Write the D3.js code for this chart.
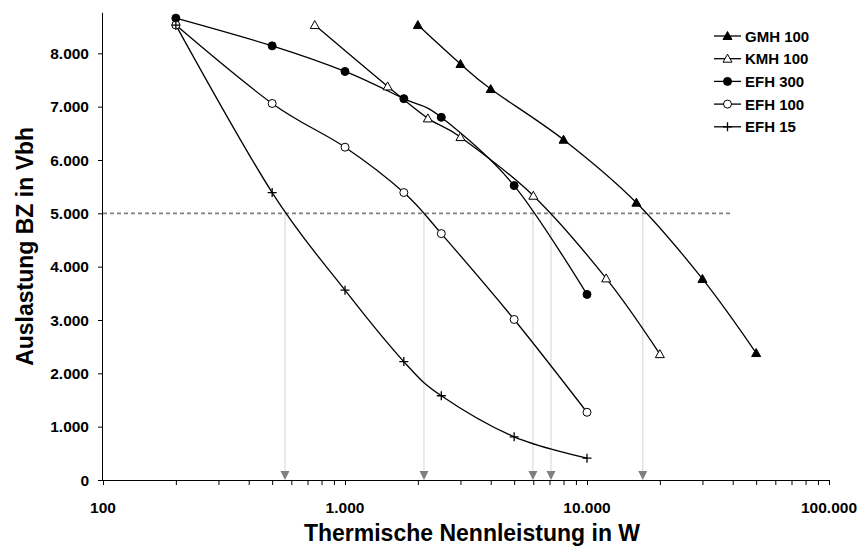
<!DOCTYPE html>
<html>
<head>
<meta charset="utf-8">
<script src="https://cdn.jsdelivr.net/npm/d3@7"></script>
<style>
  html, body { margin: 0; padding: 0; background: #fff; }
  svg { display: block; }
  text { font-family: "Liberation Sans", Arial, sans-serif; font-weight: bold; fill: #000; }
</style>
</head>
<body>
<svg id="chart" width="860" height="550"></svg>
<script>
// ---------- data ----------
const seriesNames = ["GMH 100", "KMH 100", "EFH 300", "EFH 100", "EFH 15"];
const gmh100X = [2000, 3000, 4000, 8000, 16000, 30000, 50000];
const gmh100Y = [8530, 7800, 7330, 6380, 5200, 3770, 2380];
const kmh100X = [750, 1500, 2200, 3000, 6000, 12000, 20000];
const kmh100Y = [8530, 7380, 6780, 6430, 5330, 3780, 2360];
const efhX = [200, 500, 1000, 1750, 2500, 5000, 10000];
const efh300Y = [8660, 8140, 7660, 7150, 6800, 5520, 3480];
const efh100Y = [8530, 7060, 6240, 5390, 4620, 3010, 1270];
const efh15Y = [8530, 5390, 3560, 2220, 1580, 810, 410];
const thresholdY = 5000;
const thresholdXEnd = 40000;
const arrowX = [565, 2120, 5980, 7100, 17000];
const xTickValues = [100, 1000, 10000, 100000];
const xTickLabels = ["100", "1.000", "10.000", "100.000"];
const yTickValues = [0, 1000, 2000, 3000, 4000, 5000, 6000, 7000, 8000];
const yTickLabels = ["0", "1.000", "2.000", "3.000", "4.000", "5.000", "6.000", "7.000", "8.000"];
const xTitle = "Thermische Nennleistung in W";
const yTitle = "Auslastung BZ in Vbh";

// ---------- layout ----------
const svg = d3.select("#chart");
const pLeft = 103, pRight = 829, pTop = 12.8, pBottom = 480;
const x = d3.scaleLog().domain([100, 100000]).range([pLeft, pRight]);
const y = d3.scaleLinear().domain([0, 8760]).range([pBottom, pTop]);

const series = [
  { name: seriesNames[0], xs: gmh100X, ys: gmh100Y, marker: "triangle", fill: "#000" },
  { name: seriesNames[1], xs: kmh100X, ys: kmh100Y, marker: "triangle", fill: "#fff" },
  { name: seriesNames[2], xs: efhX, ys: efh300Y, marker: "circle", fill: "#000" },
  { name: seriesNames[3], xs: efhX, ys: efh100Y, marker: "circle", fill: "#fff" },
  { name: seriesNames[4], xs: efhX, ys: efh15Y, marker: "plus", fill: "none" }
];

// ---------- threshold + arrows ----------
const g = svg.append("g");
arrowX.forEach(v => {
  g.append("line")
    .attr("x1", x(v)).attr("x2", x(v))
    .attr("y1", y(thresholdY)).attr("y2", pBottom - 8)
    .attr("stroke", "#a8a8a8").attr("stroke-width", 1)
    .attr("stroke-dasharray", "1,1");
  g.append("path")
    .attr("d", `M${x(v) - 4.5},${pBottom - 9}L${x(v) + 4.5},${pBottom - 9}L${x(v)},${pBottom}Z`)
    .attr("fill", "#808080");
});
g.append("line")
  .attr("x1", x(100)).attr("x2", x(thresholdXEnd))
  .attr("y1", y(thresholdY)).attr("y2", y(thresholdY))
  .attr("stroke", "#808080").attr("stroke-width", 1.6)
  .attr("stroke-dasharray", "4,3");

// ---------- axes ----------
const minorTicks = [];
[100, 1000, 10000].forEach(d => { for (let m = 1; m < 10; m++) minorTicks.push(m * d); });
minorTicks.push(100000);
const xAxis = d3.axisBottom(x).tickValues(minorTicks).tickSize(5).tickFormat("");
const xg = svg.append("g").attr("transform", `translate(0,${pBottom})`).call(xAxis);
xg.select(".domain").attr("d", `M${pLeft},0.5H${pRight}`).attr("stroke", "#000");
xg.selectAll("line").attr("stroke", "#000");

svg.append("g").selectAll("text").data(xTickValues).join("text")
  .attr("x", d => x(d)).attr("y", pBottom + 33)
  .attr("text-anchor", "middle").attr("font-size", 15.5)
  .text((d, i) => xTickLabels[i]);

const yAxis = d3.axisLeft(y).tickValues(yTickValues).tickSize(5).tickFormat("");
const yg = svg.append("g").attr("transform", `translate(${pLeft},0)`).call(yAxis);
yg.select(".domain").attr("d", `M-0.5,${pBottom}V${pTop}`).attr("stroke", "#000");
yg.selectAll("line").attr("stroke", "#000");

svg.append("g").selectAll("text").data(yTickValues).join("text")
  .attr("x", pLeft - 14).attr("y", d => y(d) + 5.5)
  .attr("text-anchor", "end").attr("font-size", 15.5)
  .text((d, i) => yTickLabels[i]);

svg.append("text")
  .attr("x", (pLeft + pRight) / 2 + 6).attr("y", 541)
  .attr("text-anchor", "middle").attr("font-size", 23)
  .text(xTitle);

svg.append("text")
  .attr("transform", `translate(33,${(pTop + pBottom) / 2}) rotate(-90)`)
  .attr("text-anchor", "middle").attr("font-size", 23)
  .text(yTitle);

// ---------- series ----------
const line = d3.line().x(d => x(d[0])).y(d => y(d[1])).curve(d3.curveCardinal.tension(0));

function drawMarker(sel, m, fill) {
  if (m === "circle") {
    sel.append("circle").attr("r", 4).attr("fill", fill).attr("stroke", "#000").attr("stroke-width", 1);
  } else if (m === "triangle") {
    sel.append("path").attr("d", "M0,-4.5L4.5,3.5L-4.5,3.5Z").attr("fill", fill).attr("stroke", "#000").attr("stroke-width", 1);
  } else {
    sel.append("path").attr("d", "M-4.5,0H4.5M0,-4.5V4.5").attr("stroke", "#000").attr("stroke-width", 1.3);
  }
}

const sg = svg.append("g");
series.forEach(s => {
  const pts = s.xs.map((v, i) => [v, s.ys[i]]);
  sg.append("path").attr("d", line(pts)).attr("fill", "none")
    .attr("stroke", "#000").attr("stroke-width", 1.3);
});
series.forEach(s => {
  const pts = s.xs.map((v, i) => [v, s.ys[i]]);
  pts.forEach(p => {
    const mg = sg.append("g").attr("transform", `translate(${x(p[0])},${y(p[1])})`);
    drawMarker(mg, s.marker, s.fill);
  });
});

// ---------- legend ----------
const lg = svg.append("g").attr("transform", "translate(714,36)");
series.forEach((s, i) => {
  const row = lg.append("g").attr("transform", `translate(0,${i * 22.7})`);
  row.append("line").attr("x1", 0).attr("x2", 27).attr("y1", 0).attr("y2", 0)
    .attr("stroke", "#000").attr("stroke-width", 1.3);
  const mg = row.append("g").attr("transform", "translate(13.5,0)");
  drawMarker(mg, s.marker, s.fill);
  row.append("text").attr("x", 31).attr("y", 5.5).attr("font-size", 15).text(s.name);
});
</script>
</body>
</html>
